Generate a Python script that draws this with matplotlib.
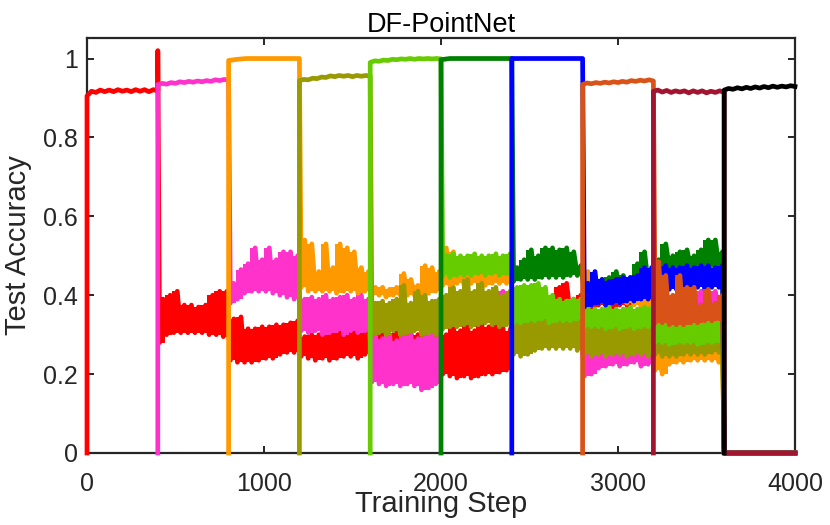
import numpy as np
import matplotlib
matplotlib.use("Agg")
import matplotlib.pyplot as plt

plt.rcParams['font.family'] = ['Liberation Sans', 'DejaVu Sans']

# ---------------- data ----------------
seg_len = 400          # training steps per task
x_max = 4000
eval_end = 3600        # after this step, earlier tasks read 0

colors = ['#FF0000', '#FF33CC', '#FF9900', '#999900', '#66CC00',
          '#008000', '#0000FF', '#D95319', '#A2142F', '#000000']

# accuracy of each task while it is being trained (samples over its 400 steps)
red_train = [0.905, 0.917, 0.914, 0.92, 0.916, 0.92, 0.916, 0.921, 0.917,
             0.92, 0.916, 0.921, 0.917, 0.921, 0.916, 0.921, 0.918]
pink_train = [0.934, 0.937, 0.935, 0.939, 0.937, 0.941, 0.939, 0.942, 0.94,
              0.943, 0.941, 0.944, 0.942, 0.946, 0.944, 0.947, 0.945]
orange_train = [0.995, 0.998, 1.0, 1.0, 1.0, 1.0, 1.0, 1.0, 1.0]
olive_train = [0.944, 0.947, 0.946, 0.95, 0.949, 0.953, 0.952, 0.956, 0.954,
               0.957, 0.955, 0.957, 0.954, 0.957, 0.955, 0.957, 0.955]
lgreen_train = [0.99, 0.994, 0.993, 0.996, 0.995, 0.998, 0.997, 0.999, 0.998,
                1.0, 0.998, 1.0, 0.999, 1.0, 0.999, 1.0, 0.999]
dgreen_train = [0.997, 1.0, 1.0, 1.0, 1.0, 1.0, 1.0, 1.0, 1.0]
blue_train = [1.0, 1.0, 1.0, 1.0, 1.0, 1.0, 1.0, 1.0, 1.0]
ored_train = [0.934, 0.938, 0.936, 0.939, 0.937, 0.94, 0.938, 0.941, 0.939,
              0.942, 0.94, 0.944, 0.942, 0.945, 0.943, 0.946, 0.943]
dred_train = [0.917, 0.92, 0.915, 0.919, 0.914, 0.918, 0.915, 0.918, 0.913,
              0.918, 0.914, 0.918, 0.913, 0.917, 0.914, 0.918, 0.914]
black_train = [0.92, 0.924, 0.922, 0.926, 0.923, 0.927, 0.924, 0.928, 0.925,
               0.929, 0.926, 0.93, 0.927, 0.93, 0.928, 0.931, 0.929]

red_peak = 1.02   # spike of task 1 at step 400

# accuracy on earlier tasks while later tasks train: low / high readings
red_lo = [
    [0.28, 0.30, 0.305, 0.305, 0.305, 0.305, 0.305, 0.30, 0.30, 0.295],
    [0.235, 0.23, 0.23, 0.23, 0.235, 0.24, 0.24, 0.25, 0.255, 0.255],
    [0.245, 0.24, 0.235, 0.24, 0.235, 0.24, 0.245, 0.245, 0.24, 0.25],
    [0.27, 0.26, 0.26, 0.255, 0.26, 0.255, 0.26, 0.26, 0.255, 0.26],
    [0.20, 0.195, 0.19, 0.195, 0.19, 0.195, 0.20, 0.20, 0.205, 0.21],
    [0.34, 0.34, 0.345, 0.345, 0.35, 0.35, 0.35, 0.35, 0.35, 0.35],
    [0.37, 0.37, 0.375, 0.375, 0.37, 0.375, 0.375, 0.38, 0.375, 0.38],
    [0.34, 0.34, 0.345, 0.34, 0.345, 0.345, 0.34, 0.345, 0.345, 0.35],
]
red_hi = [
    [0.39, 0.40, 0.41, 0.375, 0.375, 0.37, 0.375, 0.40, 0.41, 0.41],
    [0.34, 0.345, 0.315, 0.315, 0.32, 0.32, 0.325, 0.325, 0.33, 0.335],
    [0.295, 0.30, 0.30, 0.305, 0.31, 0.305, 0.31, 0.32, 0.315, 0.31],
    [0.31, 0.305, 0.30, 0.305, 0.30, 0.305, 0.30, 0.305, 0.30, 0.305],
    [0.30, 0.33, 0.31, 0.33, 0.31, 0.335, 0.32, 0.33, 0.32, 0.31],
    [0.37, 0.37, 0.375, 0.38, 0.38, 0.38, 0.42, 0.43, 0.39, 0.40],
    [0.40, 0.40, 0.40, 0.40, 0.405, 0.40, 0.40, 0.405, 0.40, 0.40],
    [0.37, 0.37, 0.375, 0.37, 0.375, 0.37, 0.375, 0.37, 0.375, 0.37],
]
pink_lo = [
    [0.38, 0.39, 0.405, 0.41, 0.41, 0.41, 0.405, 0.40, 0.395, 0.39],
    [0.31, 0.305, 0.31, 0.30, 0.305, 0.31, 0.30, 0.31, 0.305, 0.31],
    [0.18, 0.175, 0.17, 0.175, 0.17, 0.175, 0.17, 0.16, 0.165, 0.175],
    [0.33, 0.33, 0.335, 0.335, 0.335, 0.335, 0.34, 0.34, 0.34, 0.34],
    [0.28, 0.28, 0.285, 0.28, 0.285, 0.285, 0.28, 0.285, 0.285, 0.285],
    [0.195, 0.20, 0.215, 0.22, 0.225, 0.22, 0.225, 0.23, 0.22, 0.225],
    [0.35, 0.35, 0.355, 0.355, 0.36, 0.36, 0.36, 0.36, 0.36, 0.36],
]
pink_hi = [
    [0.43, 0.465, 0.48, 0.52, 0.49, 0.52, 0.49, 0.51, 0.51, 0.50],
    [0.39, 0.395, 0.39, 0.40, 0.39, 0.395, 0.40, 0.39, 0.40, 0.39],
    [0.30, 0.29, 0.30, 0.285, 0.295, 0.30, 0.29, 0.295, 0.30, 0.295],
    [0.36, 0.365, 0.365, 0.37, 0.37, 0.37, 0.37, 0.41, 0.41, 0.38],
    [0.32, 0.32, 0.32, 0.325, 0.32, 0.32, 0.325, 0.32, 0.325, 0.32],
    [0.25, 0.255, 0.255, 0.26, 0.26, 0.26, 0.265, 0.26, 0.265, 0.265],
    [0.38, 0.38, 0.385, 0.39, 0.39, 0.40, 0.41, 0.405, 0.41, 0.40],
]
orange_lo = [
    [0.42, 0.41, 0.41, 0.41, 0.41, 0.405, 0.41, 0.41, 0.405, 0.41],
    [0.40, 0.40, 0.395, 0.40, 0.40, 0.40, 0.40, 0.40, 0.405, 0.41],
    [0.425, 0.425, 0.43, 0.425, 0.43, 0.43, 0.425, 0.43, 0.43, 0.43],
    [0.35, 0.35, 0.355, 0.35, 0.355, 0.355, 0.355, 0.355, 0.355, 0.355],
    [0.375, 0.375, 0.38, 0.38, 0.38, 0.38, 0.38, 0.375, 0.37, 0.37],
    [0.21, 0.20, 0.225, 0.23, 0.23, 0.235, 0.235, 0.235, 0.235, 0.23],
]
orange_hi = [
    [0.54, 0.53, 0.46, 0.53, 0.47, 0.53, 0.52, 0.51, 0.47, 0.46],
    [0.42, 0.42, 0.415, 0.42, 0.455, 0.44, 0.425, 0.475, 0.47, 0.46],
    [0.52, 0.51, 0.49, 0.48, 0.48, 0.48, 0.48, 0.48, 0.48, 0.48],
    [0.38, 0.38, 0.385, 0.38, 0.385, 0.385, 0.385, 0.385, 0.385, 0.39],
    [0.46, 0.42, 0.42, 0.42, 0.42, 0.42, 0.42, 0.42, 0.40, 0.39],
    [0.25, 0.255, 0.255, 0.26, 0.26, 0.26, 0.26, 0.26, 0.26, 0.26],
]
olive_lo = [
    [0.30, 0.305, 0.30, 0.31, 0.30, 0.305, 0.31, 0.30, 0.305, 0.30],
    [0.315, 0.32, 0.32, 0.325, 0.32, 0.325, 0.33, 0.325, 0.32, 0.325],
    [0.25, 0.245, 0.25, 0.26, 0.265, 0.265, 0.265, 0.265, 0.265, 0.26],
    [0.25, 0.245, 0.25, 0.245, 0.25, 0.25, 0.245, 0.25, 0.25, 0.245],
    [0.25, 0.245, 0.245, 0.245, 0.25, 0.25, 0.25, 0.25, 0.255, 0.255],
]
olive_hi = [
    [0.38, 0.385, 0.38, 0.39, 0.425, 0.38, 0.41, 0.40, 0.385, 0.39],
    [0.40, 0.42, 0.41, 0.44, 0.41, 0.43, 0.41, 0.42, 0.40, 0.41],
    [0.34, 0.345, 0.34, 0.345, 0.35, 0.345, 0.35, 0.35, 0.345, 0.35],
    [0.32, 0.325, 0.32, 0.32, 0.32, 0.325, 0.32, 0.325, 0.32, 0.325],
    [0.29, 0.285, 0.285, 0.29, 0.29, 0.285, 0.29, 0.29, 0.29, 0.29],
]
lgreen_lo = [
    [0.45, 0.445, 0.45, 0.45, 0.45, 0.455, 0.45, 0.455, 0.45, 0.455],
    [0.33, 0.33, 0.335, 0.335, 0.34, 0.33, 0.335, 0.335, 0.335, 0.34],
    [0.32, 0.32, 0.32, 0.315, 0.32, 0.315, 0.32, 0.315, 0.32, 0.32],
    [0.28, 0.28, 0.275, 0.28, 0.28, 0.28, 0.275, 0.28, 0.28, 0.285],
]
lgreen_hi = [
    [0.50, 0.505, 0.50, 0.50, 0.505, 0.50, 0.50, 0.505, 0.50, 0.505],
    [0.42, 0.425, 0.425, 0.43, 0.42, 0.40, 0.39, 0.385, 0.39, 0.39],
    [0.37, 0.365, 0.365, 0.37, 0.365, 0.365, 0.37, 0.365, 0.37, 0.37],
    [0.33, 0.335, 0.33, 0.33, 0.325, 0.33, 0.33, 0.33, 0.335, 0.335],
]
dgreen_lo = [
    [0.435, 0.44, 0.44, 0.44, 0.445, 0.445, 0.445, 0.445, 0.45, 0.45],
    [0.41, 0.41, 0.415, 0.415, 0.42, 0.42, 0.42, 0.425, 0.43, 0.43],
    [0.465, 0.47, 0.47, 0.47, 0.47, 0.47, 0.475, 0.475, 0.475, 0.475],
]
dgreen_hi = [
    [0.47, 0.49, 0.515, 0.50, 0.52, 0.52, 0.515, 0.52, 0.51, 0.475],
    [0.43, 0.435, 0.44, 0.445, 0.46, 0.45, 0.445, 0.48, 0.51, 0.46],
    [0.49, 0.53, 0.50, 0.51, 0.515, 0.50, 0.515, 0.54, 0.54, 0.51],
]
blue_lo = [
    [0.37, 0.375, 0.38, 0.375, 0.38, 0.38, 0.385, 0.385, 0.39, 0.39],
    [0.42, 0.415, 0.415, 0.415, 0.415, 0.42, 0.42, 0.415, 0.42, 0.42],
]
blue_hi = [
    [0.43, 0.46, 0.44, 0.435, 0.44, 0.445, 0.445, 0.45, 0.47, 0.47],
    [0.47, 0.475, 0.47, 0.47, 0.475, 0.47, 0.475, 0.475, 0.47, 0.475],
]
ored_lo = [
    [0.33, 0.33, 0.325, 0.325, 0.325, 0.33, 0.33, 0.335, 0.335, 0.34],
]
ored_hi = [
    [0.485, 0.45, 0.40, 0.45, 0.42, 0.42, 0.375, 0.415, 0.38, 0.40],
]

tasks = [
    (red_train, red_lo, red_hi, red_peak),
    (pink_train, pink_lo, pink_hi, None),
    (orange_train, orange_lo, orange_hi, None),
    (olive_train, olive_lo, olive_hi, None),
    (lgreen_train, lgreen_lo, lgreen_hi, None),
    (dgreen_train, dgreen_lo, dgreen_hi, None),
    (blue_train, blue_lo, blue_hi, None),
    (ored_train, ored_lo, ored_hi, None),
    (dred_train, [], [], None),
    (black_train, [], [], None),
]

# ---------------- figure ----------------
fig = plt.figure(figsize=(8.3, 5.25), dpi=100)
ax = fig.add_axes([87 / 830, 1 - 453 / 525, (795 - 87) / 830, (453 - 38) / 525])

axis_col = '#262626'

for t, (train, lo, hi, peak) in enumerate(tasks):
    z = 3 + 0.01 * t
    s = t * seg_len
    xs = [s]
    ys = [0.0]
    xs += list(s + np.linspace(0, seg_len, len(train)))
    ys += list(train)
    if peak is not None:
        xs.append(s + seg_len)
        ys.append(peak)
    for j, (l, h) in enumerate(zip(lo, hi)):
        s0 = (t + 1 + j) * seg_len
        n = len(l)
        # noisy band: filled between the low and high readings
        edges = s0 + np.arange(n + 1) * seg_len / n
        ax.stairs(h, edges, baseline=l, fill=True, color=colors[t],
                  lw=2.4, zorder=z, clip_on=False)
        pos = s0 + (np.arange(2 * n) + 0.5) * seg_len / (2 * n)
        vals = np.empty(2 * n)
        vals[0::2] = l
        vals[1::2] = h
        xs += list(pos)
        ys += list(vals)
    if t < len(tasks) - 1:
        xs += [eval_end, x_max]
        ys += [0.0, 0.0]
    ax.plot(xs, ys, color=colors[t], lw=3.4, zorder=z + 0.005, clip_on=False,
            solid_joinstyle='round')

ax.set_xlim(0, x_max)
ax.set_ylim(0, 1.052)
ax.set_xticks([0, 1000, 2000, 3000, 4000])
ax.set_yticks([0, 0.2, 0.4, 0.6, 0.8, 1.0])
ax.set_yticklabels(['0', '0.2', '0.4', '0.6', '0.8', '1'])

for sp in ax.spines.values():
    sp.set_color(axis_col)
    sp.set_linewidth(1.6)
    sp.set_zorder(2.5)

ax.tick_params(axis='both', direction='in', length=5, width=1.4,
               colors=axis_col, labelsize=18, top=True, right=True)
ax.tick_params(axis='y', pad=6.5)
ax.tick_params(axis='x', pad=13.5)
for lab in ax.get_xticklabels() + ax.get_yticklabels():
    lab.set_color(axis_col)

ax.set_xlabel('Training Step', fontsize=21, color=axis_col)
ax.xaxis.set_label_coords(0.5, -0.088)
ax.set_ylabel('Test Accuracy', fontsize=21, color=axis_col)
ax.yaxis.set_label_coords(-0.077, 0.5)
ax.set_title('DF-PointNet', fontsize=19.5, color='#000000', pad=4.5)

fig.savefig('out.png', dpi=100)
